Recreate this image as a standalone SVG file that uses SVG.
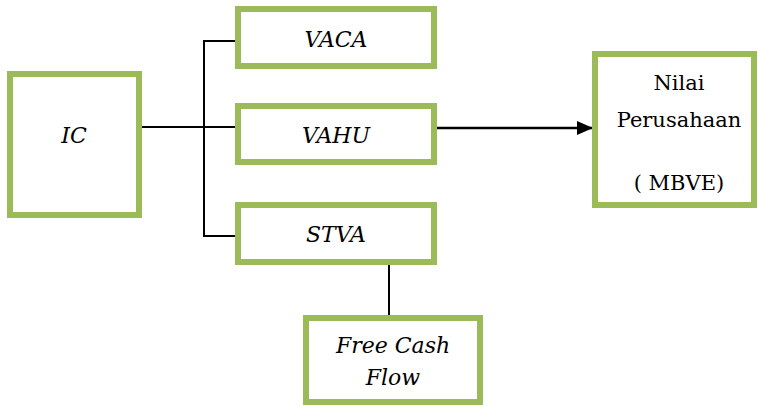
<svg xmlns="http://www.w3.org/2000/svg" width="760" height="407" viewBox="0 0 760 407">
<defs>
<style>
.box{fill:#fff;stroke:#9BBB59;stroke-width:6}
.t{font-family:'DejaVu Serif','Liberation Serif',serif;font-size:22px;fill:#000;text-anchor:middle}
.i{font-style:italic}
.u{font-size:21px}
.c{stroke:#000;stroke-width:2;fill:none}
</style>
<marker id="ah2" markerWidth="16" markerHeight="14" refX="16" refY="7" orient="auto" markerUnits="userSpaceOnUse">
<path d="M0,0 L16,7 L0,14 Z" fill="#000"/>
</marker>
</defs>
<g id="connectors">
<path class="c" d="M139,127 H235"/>
<path class="c" d="M235,41 H204 V236 H235"/>
<path class="c" d="M389,262 V318"/>
<path d="M437,128 H593" stroke="#000" stroke-width="2.5" fill="none" marker-end="url(#ah2)"/>
</g>
<g id="IC">
<rect class="box" x="10" y="74" width="129" height="141"/>
<text class="t i" x="74" y="143">IC</text>
</g>
<g id="VACA">
<rect class="box" x="238" y="9" width="196" height="57"/>
<text class="t i" x="336" y="47">VACA</text>
</g>
<g id="VAHU">
<rect class="box" x="238" y="106" width="196" height="56"/>
<text class="t i" x="336" y="143">VAHU</text>
</g>
<g id="STVA">
<rect class="box" x="238" y="205" width="196" height="57"/>
<text class="t i" x="336" y="242">STVA</text>
</g>
<g id="NilaiPerusahaan">
<rect class="box" x="595" y="54" width="159" height="151"/>
<text class="t u" x="679" y="90">Nilai</text>
<text class="t u" x="679" y="127">Perusahaan</text>
<text class="t u" x="679" y="190">( MBVE)</text>
</g>
<g id="FreeCashFlow">
<rect class="box" x="306" y="318" width="174" height="84"/>
<text class="t i" x="393" y="353">Free Cash</text>
<text class="t i" x="393" y="385">Flow</text>
</g>
</svg>
